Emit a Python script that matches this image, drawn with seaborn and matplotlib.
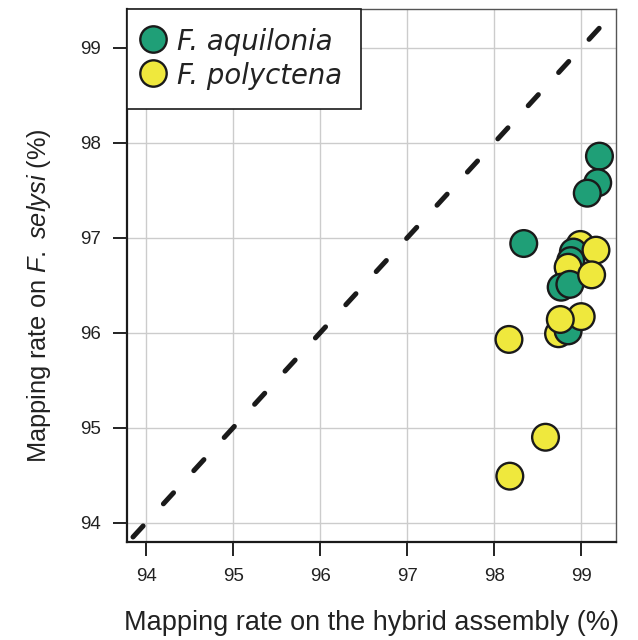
import seaborn as sns
import matplotlib.pyplot as plt
from matplotlib.lines import TICKDOWN, TICKLEFT
import pandas as pd

# mapping rates, in drawing order
hybrid = [98.99, 98.91, 98.88, 99.17, 98.85, 98.77, 98.87, 99.12, 99.21, 99.19,
          99.07, 98.34, 98.74, 98.85, 99.00, 98.76, 98.17, 98.59, 98.18]
selysi = [96.93, 96.85, 96.76, 96.87, 96.69, 96.48, 96.51, 96.61, 97.86, 97.58,
          97.47, 96.94, 95.99, 96.02, 96.17, 96.14, 95.93, 94.90, 94.49]
species = ['F. polyctena', 'F. aquilonia', 'F. aquilonia', 'F. polyctena', 'F. polyctena',
           'F. aquilonia', 'F. aquilonia', 'F. polyctena', 'F. aquilonia', 'F. aquilonia',
           'F. aquilonia', 'F. aquilonia', 'F. polyctena', 'F. aquilonia', 'F. polyctena',
           'F. polyctena', 'F. polyctena', 'F. polyctena', 'F. polyctena']
ticks = [94, 95, 96, 97, 98, 99]

df = pd.DataFrame({'hybrid': hybrid, 'selysi': selysi, 'species': species})
palette = {'F. aquilonia': '#1f9f77', 'F. polyctena': '#efe83d'}

plt.rcParams['font.family'] = ['Liberation Sans', 'DejaVu Sans']
plt.rcParams['mathtext.fontset'] = 'custom'
plt.rcParams['mathtext.rm'] = 'Liberation Sans'
plt.rcParams['mathtext.it'] = 'Liberation Sans:italic'

fig = plt.figure(figsize=(6.38, 6.40), dpi=100)
ax = fig.add_axes([0.199, 0.1536, 0.7665, 0.8324])

ax.set_xlim(93.78, 99.40)
ax.set_ylim(93.80, 99.41)
ax.set_xticks(ticks)
ax.set_yticks(ticks)
ax.grid(True, color='#cccccc', lw=1.0, zorder=1)

ax.plot([93.5, 99.6], [93.5, 99.6], color='#1a1a1a', lw=3.6,
        linestyle=(0, (3, 6)), dash_capstyle='round', zorder=2.8)

sns.scatterplot(data=df, x='hybrid', y='selysi', hue='species', palette=palette,
                hue_order=['F. aquilonia', 'F. polyctena'],
                s=370, edgecolor='#1a1a1a', linewidth=1.7, ax=ax, zorder=3)

for side in ['left', 'bottom']:
    ax.spines[side].set_color('#1a1a1a')
    ax.spines[side].set_linewidth(1.6)
for side in ['top', 'right']:
    ax.spines[side].set_color('#555555')
    ax.spines[side].set_linewidth(1.0)

ax.tick_params(axis='both', which='major', direction='out', length=10, width=1.2,
               color='#222222', labelsize=13.5, labelcolor='#222222', pad=9,
               left=True, bottom=True, top=False, right=False)
# make sure the outward tick marks show on the left and bottom spines
ax.plot(ticks, [0] * len(ticks), transform=ax.get_xaxis_transform(), ls='none',
        marker=TICKDOWN, markersize=10, markeredgewidth=1.2, color='#222222',
        clip_on=False, zorder=6)
ax.plot([0] * len(ticks), ticks, transform=ax.get_yaxis_transform(), ls='none',
        marker=TICKLEFT, markersize=10, markeredgewidth=1.2, color='#222222',
        clip_on=False, zorder=6)

ax.set_xlabel('Mapping rate on the hybrid assembly (%)', fontsize=19.5, color='#222222', labelpad=18)
ax.set_ylabel(r'Mapping rate on $F.\ selysi$ (%)', fontsize=18.3, color='#222222')
ax.yaxis.set_label_coords(-0.151, 0.4624)

handles, labels = ax.get_legend_handles_labels()
leg = ax.legend(handles, labels, loc='upper left', borderaxespad=0, frameon=True,
                fancybox=False, edgecolor='#1a1a1a', framealpha=1, handletextpad=0.6,
                labelspacing=0.2, borderpad=0.68, handlelength=0.55, handleheight=1.1,
                prop={'family': 'DejaVu Sans', 'size': 19.8, 'style': 'italic'})
leg.get_frame().set_linewidth(1.2)
leg.set_zorder(5)
for h in leg.legend_handles:
    h.set_markersize(19)
    h.set_markeredgecolor('#1a1a1a')
    h.set_markeredgewidth(1.7)
for t in leg.get_texts():
    t.set_color('#222222')

fig.savefig('out.png', dpi=100)
